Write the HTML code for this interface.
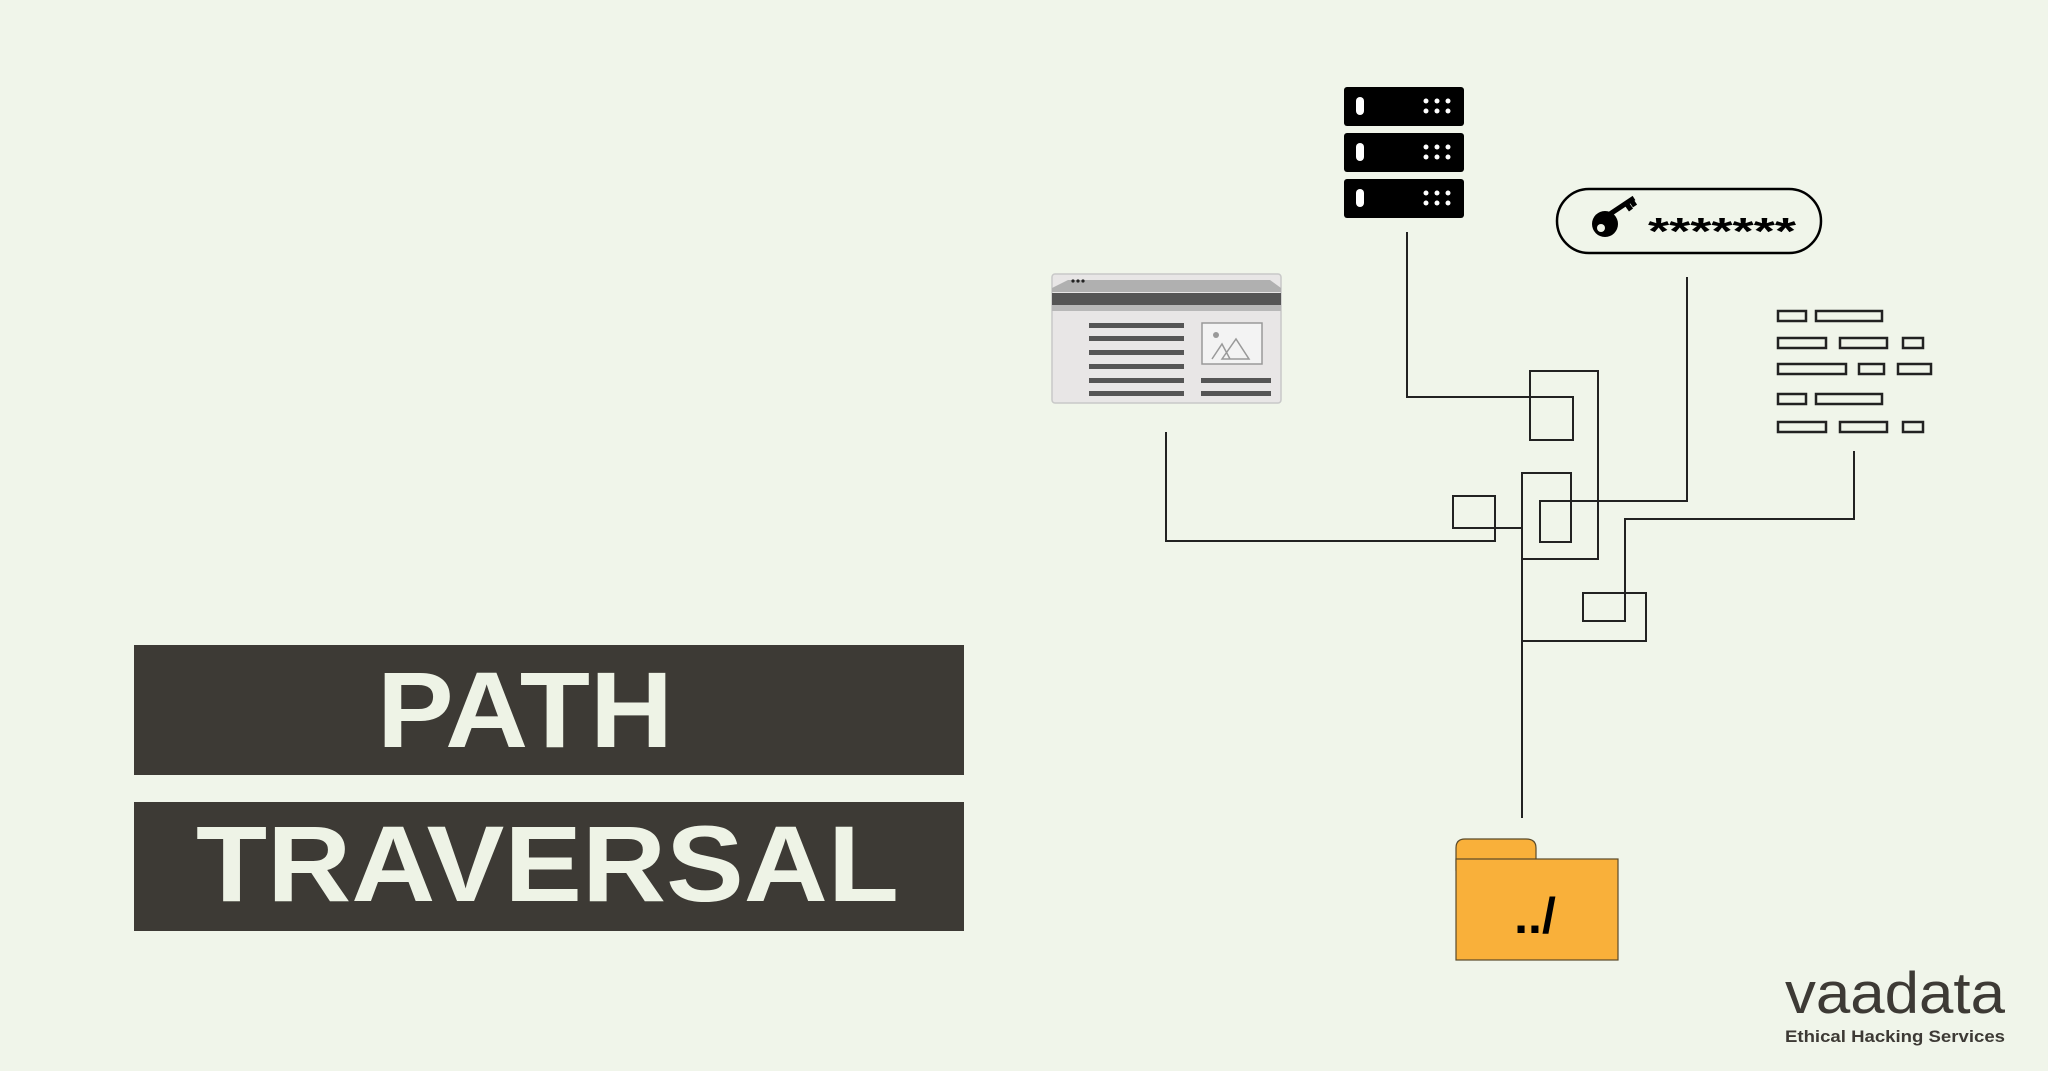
<!DOCTYPE html>
<html><head><meta charset="utf-8"><style>
html,body{margin:0;padding:0;background:#f0f5ea;}
svg{display:block}
</style></head><body>
<svg width="2048" height="1071" viewBox="0 0 2048 1071" xmlns="http://www.w3.org/2000/svg" font-family="Liberation Sans, sans-serif">
<rect width="2048" height="1071" fill="#f0f5ea"/>
<!-- title -->
<rect x="134" y="645" width="830" height="130" fill="#3d3a35"/>
<rect x="134" y="802" width="830" height="129" fill="#3d3a35"/>
<text x="377" y="747" font-size="108" font-weight="bold" fill="#eef3e6" textLength="296" lengthAdjust="spacingAndGlyphs">PATH</text>
<text x="196" y="901" font-size="108" font-weight="bold" fill="#eef3e6" textLength="703" lengthAdjust="spacingAndGlyphs">TRAVERSAL</text>

<!-- connectors -->
<g fill="none" stroke="#222" stroke-width="2">
<polyline points="1407,232 1407,397 1573,397 1573,440 1530,440 1530,371 1598,371 1598,559 1522,559"/>
<polyline points="1687,277 1687,501 1540,501 1540,542 1571,542 1571,473 1522,473 1522,818"/>
<polyline points="1166,432 1166,541 1495,541 1495,496 1453,496 1453,528 1522,528"/>
<polyline points="1854,451 1854,519 1625,519 1625,621 1583,621 1583,593 1646,593 1646,641 1522,641"/>
</g>

<!-- server -->
<g fill="#000">
<rect x="1344" y="87" width="120" height="39" rx="3"/>
<rect x="1344" y="133" width="120" height="39" rx="3"/>
<rect x="1344" y="179" width="120" height="39" rx="3"/>
</g>
<g fill="#fff">
<rect x="1356" y="97" width="8" height="18" rx="4"/>
<rect x="1356" y="143" width="8" height="18" rx="4"/>
<rect x="1356" y="189" width="8" height="18" rx="4"/>
<g id="d"><circle cx="1426" cy="101" r="2.5"/><circle cx="1437" cy="101" r="2.5"/><circle cx="1448" cy="101" r="2.5"/><circle cx="1426" cy="111" r="2.5"/><circle cx="1437" cy="111" r="2.5"/><circle cx="1448" cy="111" r="2.5"/></g>
<use href="#d" y="46"/><use href="#d" y="92"/>
</g>

<!-- key pill -->
<rect x="1557" y="189" width="264" height="64" rx="32" fill="none" stroke="#000" stroke-width="2.5"/>
<circle cx="1605" cy="224" r="13" fill="#000"/>
<circle cx="1601" cy="228" r="4" fill="#f0f5ea"/>
<path d="M1610 214 L1634 198 M1626 203 L1631 210 M1631 200 L1635 206" stroke="#000" stroke-width="5" fill="none"/>
<text x="1648" y="244" font-size="38" font-weight="bold" fill="#000" textLength="148" lengthAdjust="spacingAndGlyphs">*******</text>

<!-- browser -->
<rect x="1052" y="274" width="229" height="129" rx="3" fill="#e8e6e6" stroke="#c8c8c8" stroke-width="1.5"/>
<path d="M1052 292 L1052 288 L1068 280 L1270 280 L1281 288 L1281 292 Z" fill="#b0b0b0"/>
<circle cx="1073" cy="281" r="1.6" fill="#222"/><circle cx="1078" cy="281" r="1.6" fill="#222"/><circle cx="1083" cy="281" r="1.6" fill="#222"/>
<rect x="1052" y="293" width="229" height="12" fill="#555"/>
<rect x="1052" y="305" width="229" height="6" fill="#b8b8b8"/>
<g fill="#555">
<rect x="1089" y="323" width="95" height="5"/><rect x="1089" y="336" width="95" height="5"/><rect x="1089" y="350" width="95" height="5"/>
<rect x="1089" y="364" width="95" height="5"/><rect x="1089" y="378" width="95" height="5"/><rect x="1089" y="391" width="95" height="5"/>
<rect x="1201" y="378" width="70" height="5"/><rect x="1201" y="391" width="70" height="5"/>
</g>
<rect x="1202" y="323" width="60" height="41" fill="#f3f3f3" stroke="#999" stroke-width="1.5"/>
<circle cx="1216" cy="335" r="3" fill="#999"/>
<path d="M1212 359 L1222 344 L1230 359 M1222 359 L1236 339 L1249 359 Z" fill="none" stroke="#999" stroke-width="1.5"/>

<!-- list icon -->
<g fill="none" stroke="#222" stroke-width="2.5">
<rect x="1778" y="311" width="28" height="10"/><rect x="1816" y="311" width="66" height="10"/>
<rect x="1778" y="338" width="48" height="10"/><rect x="1840" y="338" width="47" height="10"/><rect x="1903" y="338" width="20" height="10"/>
<rect x="1778" y="364" width="68" height="10"/><rect x="1859" y="364" width="25" height="10"/><rect x="1898" y="364" width="33" height="10"/>
<rect x="1778" y="394" width="28" height="10"/><rect x="1816" y="394" width="66" height="10"/>
<rect x="1778" y="422" width="48" height="10"/><rect x="1840" y="422" width="47" height="10"/><rect x="1903" y="422" width="20" height="10"/>
</g>

<!-- folder -->
<path d="M1456 870 L1456 848 Q1456 839 1465 839 L1526 839 Q1536 839 1536 848 L1536 870 Z" fill="#f9b03a" stroke="#5a4a2a" stroke-width="1.2"/>
<rect x="1456" y="859" width="162" height="101" fill="#f9b03a" stroke="#5a4a2a" stroke-width="1.2"/>
<text x="1535" y="933" font-size="50" font-weight="bold" text-anchor="middle" fill="#000">../</text>

<!-- logo -->
<text x="1785" y="1013" font-size="58" fill="#3d3a35" textLength="220" lengthAdjust="spacingAndGlyphs" font-family="Liberation Sans, sans-serif">vaadata</text>
<text x="1785" y="1042" font-size="17" font-weight="bold" fill="#3d3a35" textLength="220" lengthAdjust="spacingAndGlyphs">Ethical Hacking Services</text>
</svg>
</body></html>
